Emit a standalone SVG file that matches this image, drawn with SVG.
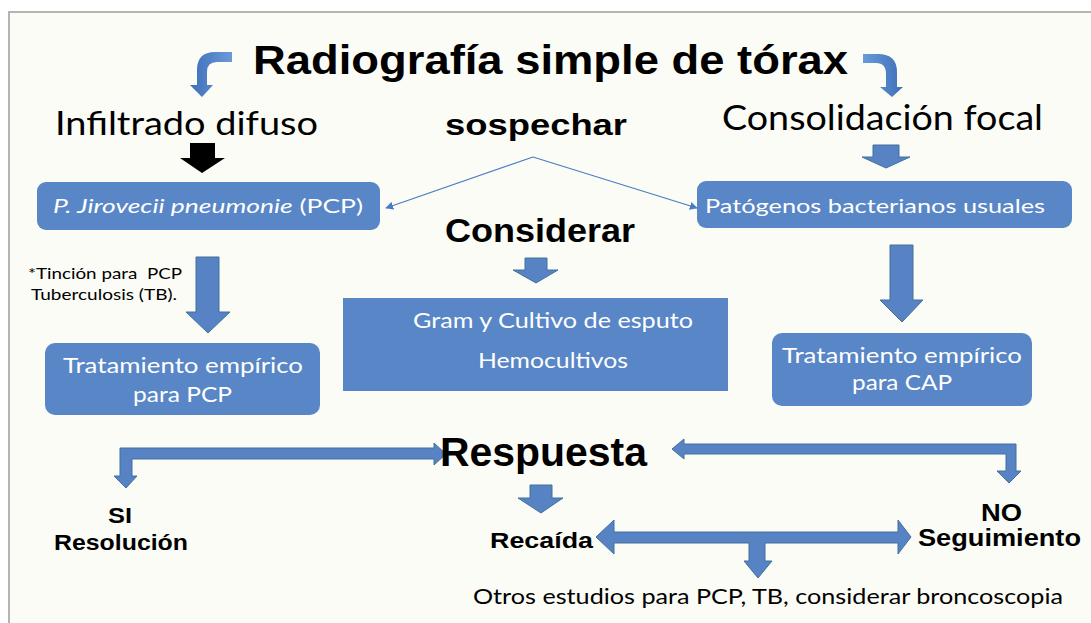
<svg xmlns="http://www.w3.org/2000/svg" width="1091" height="623" viewBox="0 0 1091 623">
<defs>
<style>
.bg{fill:#fcfcf6;stroke:#b4b4b4;stroke-width:2}
.box{fill:#5886c6}
.arr{fill:#5783c4;stroke:#41719c;stroke-width:1}
.blk{fill:#000}
.thin{fill:none;stroke:#4a7cc4;stroke-width:1.2}
.h{font-family:"Liberation Sans",Arial,sans-serif;font-weight:bold;fill:#000}
.c{font-family:Lato,"Liberation Sans",sans-serif;fill:#000}
.w{font-family:Lato,"Liberation Sans",sans-serif;fill:#fff}
</style>
<linearGradient id="g1" x1="0" y1="0" x2="1" y2="0">
<stop offset="0" stop-color="#6a9ad8"/><stop offset="1" stop-color="#3f6fb8"/>
</linearGradient>
<linearGradient id="g2" x1="0" y1="0" x2="1" y2="0">
<stop offset="0" stop-color="#3f6fb8"/><stop offset="1" stop-color="#6a9ad8"/>
</linearGradient>
<marker id="ah" viewBox="0 0 10 10" refX="9" refY="5" markerWidth="8" markerHeight="8" orient="auto" markerUnits="userSpaceOnUse">
<path d="M0,0 L10,5 L0,10 Z" fill="#4a7cc4"/>
</marker>
</defs>
<rect x="0" y="0" width="1091" height="623" fill="#ffffff"/>
<rect class="bg" x="9" y="12" width="1100" height="640"/>

<g id="connectors">
<path d="M232,52 L215,52 Q197,52 197,70 L197,85 L190,85 L202,97 L213,85 L207,85 L207,72 Q207,62 217,62 L232,62 Z" fill="url(#g2)"/>
<path d="M863,54 L878,54 Q897,54 897,72 L897,87 L903,87 L892,97 L880,87 L886,87 L886,74 Q886,63 876,63 L863,63 Z" fill="url(#g1)"/>
<path class="blk" d="M190,143 L215,143 L215,158 L225,158 L202,173 L180,158 L190,158 Z"/>
<path class="arr" d="M873,145 L899,145 L899,157 L910,157 L886,168 L862,157 L873,157 Z"/>
<line class="thin" x1="533" y1="157" x2="386" y2="208" marker-end="url(#ah)"/>
<line class="thin" x1="533" y1="157" x2="697" y2="208" marker-end="url(#ah)"/>
<path class="arr" d="M525,258 L547,258 L547,270 L558,270 L536,283 L513,270 L525,270 Z"/>
<path class="arr" d="M196,257 L219,257 L219,312 L230,312 L208,333 L186,312 L196,312 Z"/>
<path class="arr" d="M890,245 L913,245 L913,300 L923,300 L902,322 L880,300 L890,300 Z"/>
<path class="arr" d="M120,448 L434,448 L434,443 L446,454 L434,465 L434,459 L132,459 L132,476 L137,476 L126,488 L114,476 L120,476 Z"/>
<path class="arr" d="M672,449 L684,439 L684,444 L1016,444 L1016,471 L1021,471 L1009,483 L997,471 L1006,471 L1006,454 L684,454 L684,459 Z"/>
<path class="arr" d="M530,485 L552,485 L552,498 L563,498 L541,513 L518,498 L530,498 Z"/>
<path class="arr" d="M596,537 L614,520 L614,532 L898,532 L898,520 L911,537 L898,554 L898,543 L765,543 L765,561 L772,561 L758,578 L744,561 L749,561 L749,543 L614,543 L614,554 Z"/>
</g>

<g id="title"><text class="h" x="253" y="74" font-size="40" textLength="595" lengthAdjust="spacingAndGlyphs">Radiografía simple de tórax</text></g>
<g id="infiltrado"><text class="c" x="55" y="135" font-size="32" textLength="263" lengthAdjust="spacingAndGlyphs">Infiltrado difuso</text></g>
<g id="sospechar"><text class="h" x="445" y="135" font-size="29" textLength="182" lengthAdjust="spacingAndGlyphs">sospechar</text></g>
<g id="consolidacion"><text class="c" x="722" y="130" font-size="35" textLength="321" lengthAdjust="spacingAndGlyphs">Consolidación focal</text></g>

<g id="pcp">
<rect class="box" x="37" y="182" width="343" height="48" rx="9"/>
<text class="w" x="53" y="213" font-size="20" textLength="310" lengthAdjust="spacingAndGlyphs"><tspan font-style="italic">P. Jirovecii pneumonie</tspan> (PCP)</text>
</g>
<g id="patogenos">
<rect class="box" x="697" y="181" width="375" height="47" rx="9"/>
<text class="w" x="705" y="213" font-size="20" textLength="340" lengthAdjust="spacingAndGlyphs">Patógenos bacterianos usuales</text>
</g>
<g id="considerar"><text class="h" x="445" y="242" font-size="34" textLength="190" lengthAdjust="spacingAndGlyphs">Considerar</text></g>
<g id="tincion">
<text class="c" x="28" y="279" font-size="16" textLength="154" lengthAdjust="spacingAndGlyphs" style="white-space:pre">*Tinción para  PCP</text>
<text class="c" x="31" y="300" font-size="16" textLength="146" lengthAdjust="spacingAndGlyphs">Tuberculosis (TB).</text>
</g>
<g id="gram">
<rect class="box" x="343" y="298" width="385" height="93"/>
<text class="w" x="413" y="328" font-size="21" textLength="280" lengthAdjust="spacingAndGlyphs">Gram y Cultivo de esputo</text>
<text class="w" x="478" y="368" font-size="21" textLength="150" lengthAdjust="spacingAndGlyphs">Hemocultivos</text>
</g>
<g id="tratPCP">
<rect class="box" x="45" y="343" width="275" height="72" rx="10"/>
<text class="w" x="63" y="373" font-size="22" textLength="240" lengthAdjust="spacingAndGlyphs">Tratamiento empírico</text>
<text class="w" x="133" y="402" font-size="22" textLength="99" lengthAdjust="spacingAndGlyphs">para PCP</text>
</g>
<g id="tratCAP">
<rect class="box" x="772" y="333" width="260" height="73" rx="10"/>
<text class="w" x="782" y="363" font-size="22" textLength="240" lengthAdjust="spacingAndGlyphs">Tratamiento empírico</text>
<text class="w" x="852" y="390" font-size="22" textLength="100" lengthAdjust="spacingAndGlyphs">para CAP</text>
</g>
<g id="respuesta"><text class="h" x="440" y="466" font-size="40" textLength="207" lengthAdjust="spacingAndGlyphs">Respuesta</text></g>
<g id="si">
<text class="h" x="108" y="523" font-size="22" textLength="24" lengthAdjust="spacingAndGlyphs">SI</text>
<text class="h" x="54" y="550" font-size="22" textLength="134" lengthAdjust="spacingAndGlyphs">Resolución</text>
</g>
<g id="recaida"><text class="h" x="490" y="548" font-size="22" textLength="103" lengthAdjust="spacingAndGlyphs">Recaída</text></g>
<g id="no">
<text class="h" x="981" y="521" font-size="24" textLength="41" lengthAdjust="spacingAndGlyphs">NO</text>
<text class="h" x="918" y="546" font-size="24" textLength="163" lengthAdjust="spacingAndGlyphs">Seguimiento</text>
</g>
<g id="otros"><text class="c" x="473" y="604" font-size="21" textLength="590" lengthAdjust="spacingAndGlyphs">Otros estudios para PCP, TB, considerar broncoscopia</text></g>
</svg>
